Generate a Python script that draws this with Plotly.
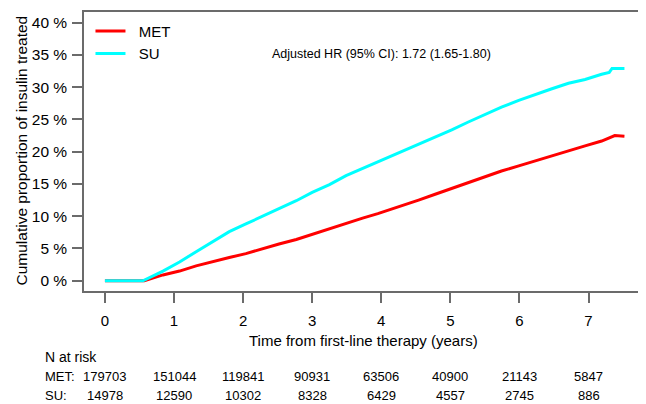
import plotly.graph_objects as go

# ---- data ----
met_t = [0, 0.57, 0.84, 1.08, 1.32, 1.56, 1.80, 2.04, 2.28, 2.52, 2.77, 3.00, 3.25, 3.49, 3.73, 3.95,
         4.21, 4.40, 4.54, 4.78, 5.02, 5.26, 5.50, 5.74, 5.99, 6.23, 6.47, 6.71, 6.95, 7.19, 7.38, 7.52]
met_v = [0, 0, 0.9, 1.5, 2.3, 3.0, 3.6, 4.2, 5.0, 5.7, 6.4, 7.2, 8.1, 8.9, 9.7, 10.4,
         11.3, 12.0, 12.5, 13.4, 14.3, 15.3, 16.1, 17.0, 17.8, 18.6, 19.4, 20.1, 20.9, 21.65, 22.5, 22.4]

su_t = [0, 0.55, 0.84, 1.08, 1.32, 1.56, 1.80, 2.04, 2.28, 2.52, 2.77, 3.00, 3.25, 3.49, 3.73, 3.98,
        4.30, 4.54, 4.78, 5.02, 5.26, 5.50, 5.74, 5.99, 6.23, 6.47, 6.71, 6.95, 7.19, 7.30, 7.34, 7.52]
su_v = [0, 0, 1.5, 2.9, 4.5, 6.0, 7.6, 8.8, 10.0, 11.2, 12.4, 13.7, 14.9, 16.3, 17.4, 18.6,
        20.1, 21.2, 22.3, 23.4, 24.6, 25.8, 26.9, 27.95, 28.9, 29.75, 30.6, 31.2, 32.0, 32.3, 32.9, 32.9]

x_ticks = [0, 1, 2, 3, 4, 5, 6, 7]
y_ticks = [0, 5, 10, 15, 20, 25, 30, 35, 40]
y_tick_labels = [f"{v} %" for v in y_ticks]

risk_times = [0, 1, 2, 3, 4, 5, 6, 7]
risk_met = [179703, 151044, 119841, 90931, 63506, 40900, 21143, 5847]
risk_su = [14978, 12590, 10302, 8328, 6429, 4557, 2745, 886]

hr_text = "Adjusted HR (95% CI): 1.72 (1.65-1.80)"
x_title = "Time from first-line therapy (years)"
y_title = "Cumulative proportion of insulin treated"

FONT = "Liberation Sans, Arial, sans-serif"
AXIS_COL = "#6b6b6b"
NB = "\u00a0\u00a0"

fig = go.Figure()
fig.add_trace(go.Scatter(x=met_t, y=met_v, mode="lines", name=NB + "MET",
                         line=dict(color="#ff0000", width=3)))
fig.add_trace(go.Scatter(x=su_t, y=su_v, mode="lines", name=NB + "SU",
                         line=dict(color="#00ffff", width=3)))

PW = 560.0  # plot-area width in px (for paper-coordinate offsets)

annotations = []
annotations.append(dict(x=4.0, y=35.1, xref="x", yref="y", text=hr_text, showarrow=False,
                        font=dict(size=12.5, color="black", family=FONT)))
annotations.append(dict(x=0.5, y=0, xref="paper", yref="paper", yshift=-49, xanchor="center",
                        yanchor="middle", text=x_title, showarrow=False,
                        font=dict(size=15, color="black", family=FONT)))
annotations.append(dict(x=0, y=0.5036, xref="paper", yref="paper", xshift=-63, xanchor="center",
                        yanchor="middle", textangle=-90, text=y_title, showarrow=False,
                        font=dict(size=15.5, color="black", family=FONT)))
annotations.append(dict(x=-41.3 / PW, y=0, xref="paper", yref="paper", yshift=-66, xanchor="left",
                        yanchor="middle", text="N at risk", showarrow=False,
                        font=dict(size=14, color="black", family=FONT)))
for lab, vals, ys in (("MET:", risk_met, -85.7), ("SU:", risk_su, -104.7)):
    annotations.append(dict(x=-40.7 / PW, y=0, xref="paper", yref="paper", yshift=ys, xanchor="left",
                            yanchor="middle", text=lab, showarrow=False,
                            font=dict(size=13, color="black", family=FONT)))
    for t, v in zip(risk_times, vals):
        annotations.append(dict(x=t, y=0, xref="x", yref="paper", yshift=ys, xanchor="center",
                                yanchor="middle", text=str(v), showarrow=False,
                                font=dict(size=13, color="black", family=FONT)))

# the page body has an 8px margin, so the figure is 8px smaller than the window
fig.update_layout(
    width=638, height=396,
    margin=dict(l=76, r=2, t=2, b=113),
    paper_bgcolor="white", plot_bgcolor="white",
    font=dict(family=FONT, color="black"),
    showlegend=True,
    legend=dict(x=0.0116, y=0.990, xanchor="left", yanchor="top", bgcolor="rgba(0,0,0,0)",
                font=dict(size=15, family=FONT, color="black"), tracegroupgap=0),
    annotations=annotations,
    xaxis=dict(range=[-0.303, 7.774], tickvals=x_ticks, ticktext=[str(v) for v in x_ticks],
               showgrid=False, zeroline=False, showline=True, mirror=True,
               linecolor=AXIS_COL, linewidth=1.5, ticks="outside", ticklen=10,
               tickcolor=AXIS_COL, tickwidth=1.5, ticklabelstandoff=5,
               tickfont=dict(size=15, family=FONT, color="black")),
    yaxis=dict(range=[-1.59, 41.65], tickvals=y_ticks, ticktext=y_tick_labels,
               showgrid=False, zeroline=False, showline=True, mirror=True,
               linecolor=AXIS_COL, linewidth=1.5, ticks="outside", ticklen=10,
               tickcolor=AXIS_COL, tickwidth=1.5, ticklabelstandoff=2,
               tickfont=dict(size=15.5, family=FONT, color="black")),
)

fig.write_html("out.html")
